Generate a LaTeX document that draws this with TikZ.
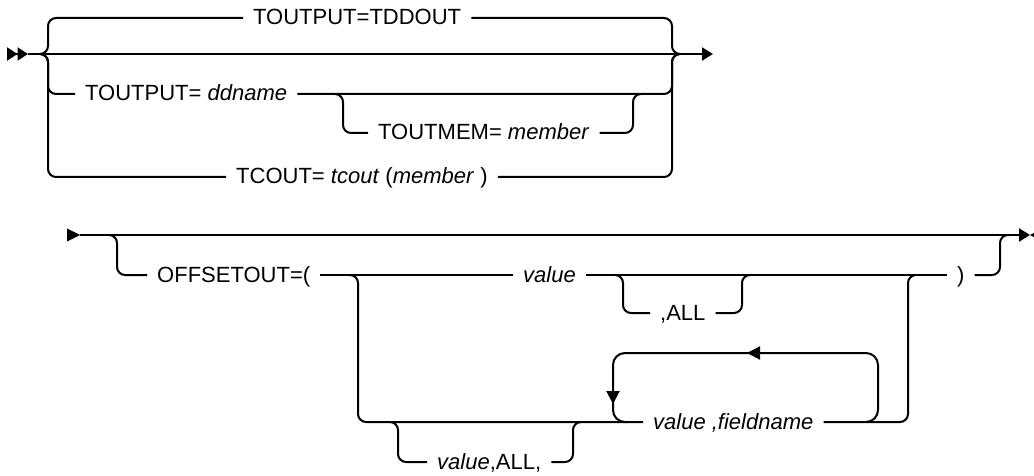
\documentclass[tikz,border=0pt]{standalone}
\usepackage{fontspec}
\setmainfont{Liberation Sans}
\usetikzlibrary{arrows.meta}
\tikzset{
  % rails and terms
  rail/.style={line width=2pt,rounded corners=8pt},
  railloop/.style={line width=2pt,rounded corners=12pt},
  railend/.style={-{Triangle[length=11pt,width=13pt]}},
  loopdir/.style={-{Triangle[length=13pt,width=13pt]}},
  term/.style={anchor=west,inner xsep=10pt,inner ysep=0pt,text height=16pt,text depth=2pt,font=\fontsize{22}{26}\selectfont},
}

\begin{document}
\begin{tikzpicture}[x=1pt,y=-1pt]
  \useasboundingbox (0,0) rectangle (1034,476);
  \clip (0,0) rectangle (1034,476);

  % first diagram
  \coordinate (s1) at (28,54);
  \coordinate (j1) at (40,54);
  \coordinate (k1) at (680,54);
  \coordinate (v1) at (48,0);
  \coordinate (w1) at (672,0);
  \coordinate (f1) at (335,94);
  \coordinate (v2) at (343,0);
  \coordinate (w2) at (633,0);
  \coordinate (g1) at (641,94);
  \node[term] (tdd) at (243,18) {TOUTPUT=TDDOUT};
  \node[term] (dd) at (75,94) {TOUTPUT= \textit{ddname}};
  \node[term] (mem) at (368,133) {TOUTMEM= \textit{member}};
  \node[term] (tc) at (226,177) {TCOUT= \textit{tcout} (\textit{member} )};

  \draw[line width=2pt,-{Triangle[length=10.5pt,width=13pt]Triangle[length=10.5pt,width=13pt]}] (7,54) -- (s1);
  \draw[rail] (s1) -- (k1);
  \draw[rail,railend] (k1) -- (713,54);
  \draw[rail] (j1) -| (v1 |- tdd.west) -- (tdd.west);
  \draw[rail] (tdd.east) -| (w1 |- k1) -- (k1);
  \draw[rail] (j1) -| (v1 |- dd.west) -- (dd.west);
  \draw[rail] (dd.east) -| (w1 |- k1) -- (k1);
  \draw[rail] (j1) -| (v1 |- tc.west) -- (tc.west);
  \draw[rail] (tc.east) -| (w1 |- k1) -- (k1);
  \draw[rail] (f1) -| (v2 |- mem.west) -- (mem.west);
  \draw[rail] (mem.east) -| (w2 |- g1) -- (g1);

  % second diagram
  \coordinate (s2) at (80,235);
  \coordinate (j2) at (109,235);
  \coordinate (k2) at (1010,235);
  \coordinate (e2) at (1030,235);
  \coordinate (v3) at (117,0);
  \coordinate (w3) at (1000,0);
  \coordinate (f2) at (615,275);
  \coordinate (v4) at (623,0);
  \coordinate (w4) at (742,0);
  \coordinate (g2) at (750,275);
  \coordinate (f3) at (350,275);
  \coordinate (v5) at (358,0);
  \coordinate (w5) at (908,0);
  \coordinate (g3) at (916,275);
  \coordinate (f4) at (390,422);
  \coordinate (v6) at (398,0);
  \coordinate (w6) at (573,0);
  \coordinate (g4) at (581,422);
  \coordinate (f5) at (866,422);
  \coordinate (w7) at (878,0);
  \coordinate (v7) at (613,0);
  \coordinate (g5) at (627,422);
  \coordinate (lt) at (747,353);
  \coordinate (ld) at (613,404);
  \node[term] (off) at (147,275) {OFFSETOUT=(};
  \node[term] (val) at (513,275) {\textit{value}};
  \node[term] (all) at (650,313) {,ALL};
  \node[term] (rp) at (947,275) {)};
  \node[term] (vf) at (643,422) {\textit{value ,fieldname}};
  \node[term] (vall) at (427,462) {\textit{value},ALL,};

  \fill (67,228.5) -- (s2) -- (67,241.5) -- cycle;
  \draw[rail,railend] (s2) -- (e2);
  \fill (e2) -- (1042,228.5) -- (1042,241.5) -- cycle;
  \draw[rail] (j2) -| (v3 |- off.west) -- (off.west);
  \draw[rail] (off.east) -- (val.west);
  \draw[rail] (val.east) -- (rp.west);
  \draw[rail] (rp.east) -| (w3 |- k2) -- (k2);
  \draw[rail] (f2) -| (v4 |- all.west) -- (all.west);
  \draw[rail] (all.east) -| (w4 |- g2) -- (g2);
  \draw[rail] (f3) -| (v5 |- vf.west) -- (vf.west);
  \draw[rail] (vf.east) -| (w5 |- g3) -- (g3);
  \draw[rail] (f4) -| (v6 |- vall.west) -- (vall.west);
  \draw[rail] (vall.east) -| (w6 |- g4) -- (g4);
  \draw[railloop] (f5) -| (w7 |- lt) -| (v7 |- vf.west) -- (g5);
  \draw[rail,loopdir] (772,353) -- (lt);
  \draw[rail,loopdir] (613,386) -- (ld);
\end{tikzpicture}
\end{document}
